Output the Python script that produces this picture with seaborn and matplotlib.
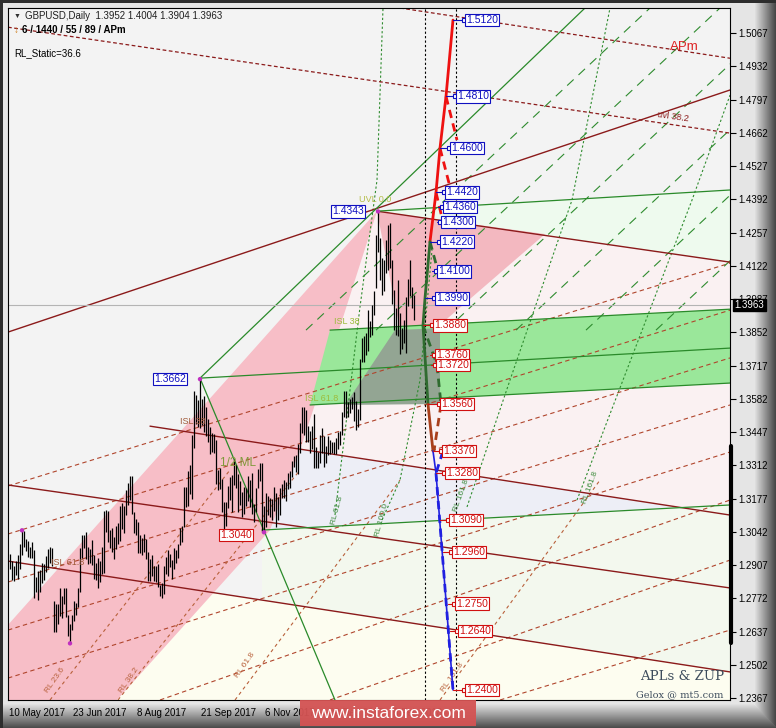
import matplotlib
matplotlib.use("Agg")
import matplotlib.pyplot as plt
from matplotlib.patches import Polygon, Rectangle
import matplotlib.transforms as mtransforms
import numpy as np
import pandas as pd
import seaborn as sns

sns.set_theme(style="white")
plt.rcParams['font.family'] = ['Liberation Sans', 'DejaVu Sans']

# GBPUSD daily bars (high / low), 10 May 2017 .. 20 Feb 2018
high = [1.2952, 1.2924, 1.2905, 1.2925, 1.2947, 1.2993, 1.3048, 1.3047, 1.3013, 1.3003, 1.2981, 1.2999, 1.2968, 1.2857, 1.2881, 1.2887,
        1.2917, 1.2913, 1.2945, 1.2974, 1.2980, 1.2976, 1.2760, 1.2750, 1.2749, 1.2814, 1.2783, 1.2815, 1.2815, 1.2706, 1.2669, 1.2705,
        1.2761, 1.2753, 1.2815, 1.2978, 1.3028, 1.3029,
        1.3043, 1.2981, 1.2973, 1.3008, 1.2948, 1.2915, 1.2935, 1.2923, 1.2979, 1.3127, 1.3130, 1.3126, 1.3050, 1.3056, 1.3022, 1.3064,
        1.3077, 1.3148, 1.3158, 1.3146, 1.3212,
        1.3239, 1.3267, 1.3267, 1.3123, 1.3095, 1.3081, 1.3030, 1.3018, 1.3035, 1.3012, 1.2958, 1.2931, 1.2949, 1.2905, 1.2905, 1.2911,
        1.2828, 1.2835, 1.2903, 1.2940, 1.2967, 1.2951, 1.2927,
        1.2978, 1.2970, 1.2993, 1.3058, 1.3065, 1.3222, 1.3222, 1.3288, 1.3312, 1.3434, 1.3615, 1.3598, 1.3579, 1.3662, 1.3583, 1.3593,
        1.3549, 1.3500, 1.3469, 1.3444, 1.3441,
        1.3416, 1.3291, 1.3302, 1.3258, 1.3163, 1.3165, 1.3230, 1.3263, 1.3272, 1.3338, 1.3314, 1.3275, 1.3249, 1.3204, 1.3224, 1.3218,
        1.3270, 1.3253, 1.3282, 1.3156, 1.3220, 1.3297,
        1.3322, 1.3320, 1.3145, 1.3200, 1.3187, 1.3181, 1.3174, 1.3223, 1.3200, 1.3184, 1.3219, 1.3238, 1.3253, 1.3245, 1.3282, 1.3290,
        1.3331, 1.3351, 1.3355, 1.3399, 1.3485, 1.3549,
        1.3550, 1.3537, 1.3470, 1.3452, 1.3472, 1.3520, 1.3388, 1.3366, 1.3436, 1.3462, 1.3429, 1.3390, 1.3433, 1.3413, 1.3406, 1.3407,
        1.3424, 1.3448, 1.3450, 1.3530,
        1.3612, 1.3614, 1.3568, 1.3582, 1.3588, 1.3611, 1.3573, 1.3542, 1.3744, 1.3830, 1.3836, 1.3850, 1.3943, 1.3899, 1.3961, 1.4019,
        1.4248, 1.4343, 1.4236, 1.4153, 1.4144, 1.4225,
        1.4289, 1.4294, 1.4145, 1.4023, 1.3949, 1.4066, 1.3929, 1.3869, 1.3904, 1.3995, 1.4070, 1.4145, 1.4035, 1.4004]
low = [1.2890, 1.2845, 1.2842, 1.2865, 1.2850, 1.2890, 1.2948, 1.2981, 1.2966, 1.2939, 1.2936, 1.2935, 1.2775, 1.2797, 1.2767, 1.2796,
       1.2833, 1.2847, 1.2880, 1.2895, 1.2915, 1.2904, 1.2636, 1.2637, 1.2667, 1.2700, 1.2694, 1.2749, 1.2695, 1.2617, 1.2589, 1.2642,
       1.2680, 1.2703, 1.2738, 1.2796, 1.2935, 1.2977,
       1.2932, 1.2911, 1.2915, 1.2906, 1.2849, 1.2846, 1.2812, 1.2837, 1.2869, 1.2875, 1.3041, 1.3002, 1.2976, 1.2958, 1.2931, 1.2972,
       1.2992, 1.3006, 1.3054, 1.3036, 1.3112,
       1.3150, 1.3172, 1.3116, 1.3036, 1.3029, 1.2956, 1.2954, 1.2947, 1.2962, 1.2932, 1.2844, 1.2842, 1.2864, 1.2844, 1.2839, 1.2817,
       1.2783, 1.2774, 1.2790, 1.2871, 1.2862, 1.2901, 1.2852,
       1.2891, 1.2917, 1.2934, 1.2990, 1.3002, 1.3060, 1.3141, 1.3148, 1.3197, 1.3174, 1.3384, 1.3480, 1.3469, 1.3465, 1.3475, 1.3448,
       1.3432, 1.3405, 1.3358, 1.3366, 1.3361,
       1.3238, 1.3211, 1.3215, 1.3123, 1.3027, 1.3067, 1.3138, 1.3170, 1.3123, 1.3233, 1.3220, 1.3123, 1.3152, 1.3102, 1.3116, 1.3147,
       1.3168, 1.3141, 1.3114, 1.3080, 1.3122, 1.3220,
       1.3247, 1.3042, 1.3040, 1.3063, 1.3112, 1.3103, 1.3090, 1.3125, 1.3062, 1.3090, 1.3112, 1.3180, 1.3181, 1.3166, 1.3217, 1.3220,
       1.3265, 1.3305, 1.3284, 1.3278, 1.3361, 1.3444,
       1.3437, 1.3405, 1.3408, 1.3361, 1.3378, 1.3300, 1.3300, 1.3300, 1.3323, 1.3361, 1.3307, 1.3323, 1.3355, 1.3359, 1.3360, 1.3357,
       1.3358, 1.3379, 1.3396, 1.3436,
       1.3510, 1.3506, 1.3507, 1.3523, 1.3540, 1.3490, 1.3456, 1.3466, 1.3494, 1.3730, 1.3731, 1.3761, 1.3777, 1.3834, 1.3840, 1.3921,
       1.4030, 1.4179, 1.4064, 1.4004, 1.4018, 1.4094,
       1.4104, 1.4113, 1.3967, 1.3861, 1.3842, 1.3839, 1.3765, 1.3784, 1.3808, 1.3768, 1.3960, 1.4000, 1.3950, 1.3904]

date_pos = [0, 32, 64, 96, 128, 160, 192]
date_labels = ['10 May 2017', '23 Jun 2017', '8 Aug 2017', '21 Sep 2017', '6 Nov 2017', '20 Dec 2017', '6 Feb 2018']
price_ticks = [1.5067, 1.4932, 1.4797, 1.4662, 1.4527, 1.4392, 1.4257, 1.4122, 1.3987, 1.3852, 1.3717,
               1.3582, 1.3447, 1.3312, 1.3177, 1.3042, 1.2907, 1.2772, 1.2637, 1.2502, 1.2367]
last_price = 1.3963

# swing points
pivot_bar = [6, 30, 95, 127, 184]
pivot_price = [1.3048, 1.2589, 1.3662, 1.3040, 1.4343]

# filled zones (bar, price)
zone_lightgreen = [(183.5, 1.4344), (360, 1.4430), (360, 1.4137)]
zone_pinkwhite = [(183.5, 1.4344), (360, 1.4137), (360, 1.3110), (95, 1.3439)]
zone_lavender = [(126, 1.3398), (333, 1.3143), (126, 1.3049)]
zone_greenwhite = [(126, 1.3049), (360, 1.3151), (360, 1.2473), (126, 1.2765)]
zone_cream = [(40, 1.2871), (360, 1.2473), (360, 1.2359), (40, 1.2359)]
zone_pink = [(-1, 1.2664), (183.5, 1.4344), (156.5, 1.3658), (145, 1.3374), (130, 1.3049), (53.5, 1.2359), (-1, 1.2359)]
zone_salmon = [(183.5, 1.4344), (267.5, 1.4251), (212, 1.3861), (195, 1.3861)]
zone_green = [(160, 1.3861), (360, 1.3946), (360, 1.3646), (150, 1.3557)]
zone_gray = [(167.5, 1.3557), (192.5, 1.3861), (215, 1.3869), (215, 1.3561)]

# solid median / warning lines
red_lines = [[(-1, 1.3853), (360, 1.4836)], [(183.5, 1.4344), (360, 1.4137)], [(-1, 1.3232), (360, 1.2814)],
             [(70, 1.3471), (360, 1.3110)], [(-1, 1.2923), (360, 1.2473)]]
green_lines = [[(95, 1.3666), (287.5, 1.5169)], [(95, 1.3666), (360, 1.3788)], [(183.5, 1.4344), (360, 1.4430)],
               [(126, 1.3049), (360, 1.3151)], [(160, 1.3861), (360, 1.3946)], [(150, 1.3557), (360, 1.3646)],
               [(95, 1.3666), (162.5, 1.2359)]]
red_dashed = [[(-1, 1.5091), (360, 1.4661)], [(195, 1.5169), (360, 1.4965)]]
brown_dashed = [[(-1, 1.3228), (360, 1.4133)], [(-1, 1.3033), (360, 1.3942)], [(-1, 1.2838), (360, 1.3748)],
                [(-1, 1.2643), (360, 1.3557)], [(-1, 1.2448), (360, 1.3366)], [(75, 1.2359), (360, 1.3171)],
                [(160, 1.2359), (360, 1.2927)], [(245, 1.2359), (360, 1.2643)]]
brown_rl = [[(20, 1.2359), (110, 1.3293)], [(54, 1.2359), (145, 1.3293)], [(112.5, 1.2359), (195, 1.3252)],
            [(215, 1.2359), (295, 1.3252)]]
# reaction curves (bar list, price list)
green_rl = [([162.5, 175, 183.5, 186.5], [1.3110, 1.3955, 1.4470, 1.5169]),
            ([186, 195, 205, 211], [1.3090, 1.3252, 1.3658, 1.4186]),
            ([228.5, 250, 281, 300], [1.3143, 1.3658, 1.4389, 1.5169]),
            ([283.5, 341, 360], [1.3171, 1.4389, 1.4815])]
green_longdash = [[(148, 1.3861), (320, 1.5169)], [(183, 1.3861), (355, 1.5169)], [(218, 1.3861), (390, 1.5169)],
                  [(253, 1.3861), (425, 1.5169)], [(288, 1.3861), (460, 1.5169)], [(323, 1.3861), (495, 1.5169)]]

# projection legs
red_leg = ([210, 213, 215, 218, 221.5], [1.4220, 1.4420, 1.4600, 1.4810, 1.5120])
red_leg_dash = [[(213, 1.4420), (216.5, 1.4300)], [(215, 1.4600), (220, 1.4442)], [(218, 1.4810), (223.5, 1.4633)]]
green_leg = ([210, 207.5, 206.5, 209], [1.4220, 1.3990, 1.3880, 1.3560])
green_leg_dash = [[(210, 1.4220), (214, 1.4100)], [(206.5, 1.3880), (213.5, 1.3720)], [(213.5, 1.3720), (215.5, 1.3560)]]
brown_leg = ([209, 211.5], [1.3560, 1.3370])
brown_leg_dash = [[(215.5, 1.3560), (212, 1.3370)]]
blue_leg = ([211.5, 213, 221.5], [1.3370, 1.3280, 1.2400])
blue_leg_dash = [[(216.5, 1.3370), (213, 1.3280)], [(213, 1.3280), (221.5, 1.2400)]]

target_price = [1.5120, 1.4810, 1.4600, 1.4420, 1.4360, 1.4300, 1.4220, 1.4100, 1.3990, 1.3880,
                1.3760, 1.3720, 1.3560, 1.3370, 1.3280, 1.3090, 1.2960, 1.2750, 1.2640, 1.2400]
target_box = [228, 223.5, 220.5, 218, 217, 216, 215.5, 214, 213, 212, 213, 213.5, 215.5, 216.5, 218, 220, 221.5, 223, 224.5, 228]
target_anchor = [221.5, 218, 215, 213, 214, 213.5, 210, 211, 207.5, 206.5, 210, 210.5, 209, 211.5, 213, 215, 216.5, 219, 220, 221.5]

W, H = 776, 728
fig = plt.figure(figsize=(W / 100, H / 100), dpi=100)
fig.patch.set_facecolor('#e4e4e4')

# frame / bevel background
bg = fig.add_axes([0, 0, 1, 1], zorder=-10)
img = np.full((H, W, 3), 0.90)
ramp_r = np.linspace(0.90, 0.28, 22)
img[:, W - 22:, :] = ramp_r[None, :, None]
ramp_b = np.linspace(0.88, 0.30, 24)
for k in range(24):
    img[H - 24 + k, :W - 22 + k, :] = ramp_b[k]
img[:3, :, :] = 0.18
img[:, :3, :] = 0.18
bg.imshow(img, aspect='auto', extent=(0, W, H, 0))
bg.axis('off')

ax = fig.add_axes([8 / W, 28 / H, 722 / W, 692 / H])
ax.set_facecolor('#f3f3f3')
ax.set_xlim(-1, 360)
ax.set_ylim(1.2359, 1.5169)

for pts, col in [(zone_lightgreen, '#eefaee'), (zone_pinkwhite, '#faf1f2'), (zone_lavender, '#edeef6'),
                 (zone_greenwhite, '#f3f8ee'), (zone_cream, '#fdfdf0'), (zone_pink, '#f7bec7'),
                 (zone_salmon, '#f3b8c0'), (zone_green, '#9ae79a'), (zone_gray, '#93a593')]:
    ax.add_patch(Polygon(pts, closed=True, fc=col, ec='none', zorder=1))

def draw_segments(segs, color, lw, ls, z=2):
    for (x0, y0), (x1, y1) in segs:
        ax.plot([x0, x1], [y0, y1], color=color, lw=lw, ls=ls, zorder=z)

draw_segments(brown_dashed, '#b0452c', 0.8, (0, (4, 3)))
draw_segments(brown_rl, '#b8603a', 0.8, (0, (3, 3)))
for xs, ys in green_rl:
    ax.plot(xs, ys, color='#2e8b2e', lw=0.8, ls=(0, (2, 2)), zorder=2)
draw_segments(green_longdash, '#2e8b2e', 0.8, (0, (8, 6)))
draw_segments(red_dashed, '#8b1a1a', 0.9, (0, (3, 2)))
draw_segments(red_lines, '#8b1a1a', 1.0, '-')
draw_segments(green_lines, '#2a8a2a', 0.9, '-')

ax.axhline(last_price, color='#b4b4b4', lw=0.8, zorder=2)
for xv in [207.5, 223]:
    ax.axvline(xv, color='black', lw=0.8, ls=(0, (2, 2)), zorder=3)

bars = pd.DataFrame({'bar': np.arange(len(high)), 'high': high, 'low': low})
ax.vlines(bars['bar'], bars['low'], bars['high'], color='black', lw=0.9, zorder=4)

piv = pd.DataFrame({'bar': pivot_bar, 'price': pivot_price})
sns.scatterplot(data=piv, x='bar', y='price', ax=ax, color='#c030c0', s=10, edgecolor='none', zorder=5)
ax.set_xlabel('')
ax.set_ylabel('')

# projection legs
ax.plot(*red_leg, color='#ee1111', lw=2.0, zorder=6)
draw_segments(red_leg_dash, '#ee1111', 2.0, (0, (3, 2)), z=6)
ax.plot(*green_leg, color='#2f6b2f', lw=2.0, zorder=6)
draw_segments(green_leg_dash, '#2f6b2f', 2.0, (0, (3, 2)), z=6)
ax.plot(*brown_leg, color='#a8401c', lw=2.0, zorder=6)
draw_segments(brown_leg_dash, '#a8401c', 2.0, (0, (3, 2)), z=6)
ax.plot(*blue_leg, color='#2020e0', lw=1.2, zorder=6)
draw_segments(blue_leg_dash, '#2020e0', 2.0, (0, (3, 2)), z=6)

for p, bx, an in zip(target_price, target_box, target_anchor):
    col = '#1010c0' if p > last_price else '#d01010'
    ax.plot([an, bx - 1.2], [p, p], color=col, lw=0.8, zorder=6)
    ax.plot([bx - 1.2], [p], marker='s', ms=3, mfc='white', mec=col, mew=0.8, zorder=7)
    ax.text(bx, p, f'{p:.4f}', color=col, fontsize=7.5, ha='left', va='center', zorder=8,
            bbox=dict(boxstyle='square,pad=0.12', fc='white', ec=col, lw=0.8))

for txt, bx, p, col in [('1.4343', 161, 1.4343, '#1010c0'), ('1.3662', 72, 1.3662, '#1010c0'),
                        ('1.3040', 105, 1.3030, '#d01010')]:
    ax.text(bx, p, txt, color=col, fontsize=7.5, ha='left', va='center', zorder=8,
            bbox=dict(boxstyle='square,pad=0.12', fc='white', ec=col, lw=0.8))

# level captions
for txt, x, y, col, fs, rot in [('UVL 0.0', 182.5, 1.4393, '#b5bd4a', 6.5, 0), ('ISL 38', 168.5, 1.3894, '#9cbc3c', 6.5, 0),
                                ('ISL 61.8', 156, 1.3585, '#9cbc3c', 6.5, 0), ('1/2 ML', 114, 1.3321, '#7f9a3a', 8.5, 0),
                                ('ISL 38', 91.5, 1.3488, '#a05a3a', 6.5, 0), ('ISL 61.8', 29, 1.2919, '#a05a3a', 6.5, 0),
                                ('RL 23.6', 22.5, 1.2440, '#b8603a', 6, 55), ('RL 38.2', 59.5, 1.2440, '#b8603a', 6, 55),
                                ('RL 61.8', 117.5, 1.2501, '#b8603a', 6, 55), ('RL 161.8', 221, 1.2452, '#b8603a', 6, 55),
                                ('RL 61.8', 163.5, 1.3130, '#3a8a3a', 6, 75), ('RL 100.0', 186, 1.3090, '#3a8a3a', 6, 75),
                                ('RL 161.8', 225.5, 1.3191, '#3a8a3a', 6, 70), ('RL 161.8', 290, 1.3220, '#3a8a3a', 6, 70),
                                ('APm', 337, 1.5010, '#dd2222', 9.5, 0), ('uvl 38.2', 331.5, 1.4726, '#8b1a1a', 6.5, -8)]:
    ax.text(x, y, txt, color=col, fontsize=fs, rotation=rot, ha='center', va='center', zorder=5)

# axes styling
ax.yaxis.tick_right()
ax.set_yticks(price_ticks)
ax.set_yticklabels([f'{v:.4f}' for v in price_ticks], fontsize=7)
ax.set_xticks(date_pos)
ax.set_xticklabels(date_labels, fontsize=7, ha='left')
ax.tick_params(axis='both', direction='out', length=4, width=0.8, colors='black', pad=2)
for lab in ax.get_xticklabels():
    lab.set_transform(lab.get_transform() + mtransforms.ScaledTranslation(-1 / 100, 0, fig.dpi_scale_trans))
for s in ax.spines.values():
    s.set_color('black')
    s.set_linewidth(0.8)
ax.grid(False)

trans = mtransforms.blended_transform_factory(ax.transAxes, ax.transData)
ax.text(1.006, last_price, f'{last_price:.4f}', transform=trans, color='white', fontsize=7, ha='left', va='center',
        zorder=10, clip_on=False, bbox=dict(boxstyle='square,pad=0.15', fc='black', ec='black'))
ax.plot([1.002, 1.002], [1.3390, 1.2590], transform=trans, color='black', lw=3, clip_on=False, zorder=10)

# header
fig.text(14 / W, 1 - 16 / H, '\u25bc', fontsize=5, color='#303030', va='center')
fig.text(25 / W, 1 - 16 / H, 'GBPUSD,Daily  1.3952 1.4004 1.3904 1.3963', fontsize=7, color='#202020', va='center')
fig.text(14 / W, 1 - 30 / H, '\u2193', fontsize=7, color='#d08020', va='center')
fig.text(22 / W, 1 - 30 / H, '6 / 1440 / 55 / 89 / APm', fontsize=7, color='black', va='center', weight='bold')
fig.text(14 / W, 1 - 53 / H, 'RL_Static=36.6', fontsize=7, color='black', va='center')

# signature
fig.text(682 / W, 1 - 677 / H, 'APLs & ZUP', fontsize=9.5, color='#3d4c5c', ha='center', va='center', family='DejaVu Serif')
fig.text(680 / W, 1 - 695 / H, 'Gelox @ mt5.com', fontsize=7, color='#3d4c5c', ha='center', va='center', family='DejaVu Serif')

# watermark
fig.patches.append(Rectangle((300 / W, 2 / H), 176 / W, 26 / H, transform=fig.transFigure, fc='#d45353', ec='none',
                             alpha=0.95, zorder=20))
fig.text(388 / W, 1 - 713 / H, 'www.instaforex.com', fontsize=12.5, color='white', ha='center', va='center', zorder=21)

fig.savefig('out.png', dpi=100)
